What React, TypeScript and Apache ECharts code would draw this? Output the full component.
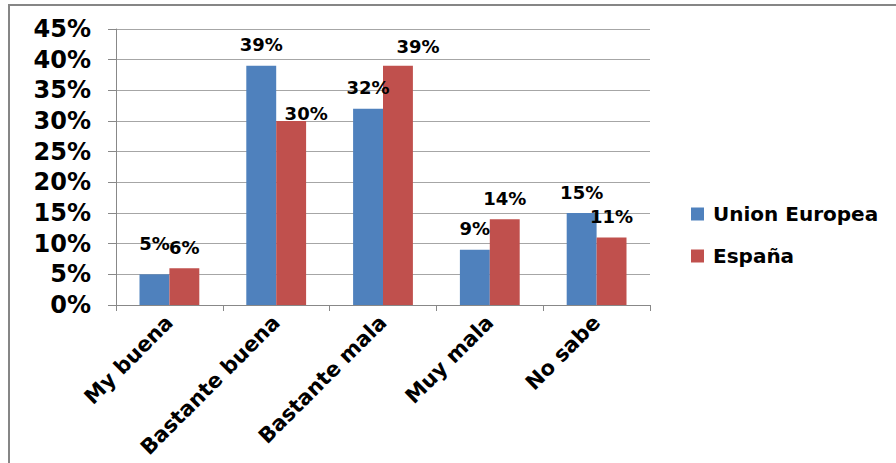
import React, { useEffect, useRef } from "react";
import * as echarts from "echarts";

const categories = ["My buena", "Bastante buena", "Bastante mala", "Muy mala", "No sabe"];
const unionEuropea = [5, 39, 32, 9, 15];
const espana = [6, 30, 39, 14, 11];
const seriesNames = ["Union Europea", "España"];

// label nudges (Excel placed a few labels slightly off the bar top)
const ueLabelOffsets: [number, number][] = [[0, -10], [0, 0], [0, 0], [0, 0], [0, 0]];
const esLabelOffsets: [number, number][] = [[0, 0], [15, 13], [20, 2], [0, 0], [0, 0]];

const FONT = "'DejaVu Sans', Verdana, sans-serif";

export default function App() {
  const ref = useRef<HTMLDivElement>(null);
  useEffect(() => {
    document.body.style.margin = "0";
    const chart = echarts.init(ref.current!, null, { renderer: "svg" });
    const mkData = (vals: number[], offs: [number, number][]) =>
      vals.map((v, i) => ({ value: v, label: { offset: offs[i] } }));
    const labelStyle = {
      show: true,
      position: "top" as const,
      distance: 12,
      formatter: "{c}%",
      color: "#000",
      fontFamily: FONT,
      fontSize: 18,
      fontWeight: 600,
    };
    chart.setOption({
      animation: false,
      backgroundColor: "#fff",
      graphic: [
        {
          type: "rect",
          shape: { x: 9, y: 5, width: 1000, height: 600 },
          style: { fill: "none", stroke: "#868686", lineWidth: 2 },
          silent: true,
        },
      ],
      grid: { left: 116, right: 246, top: 29, bottom: 158 },
      legend: {
        orient: "vertical",
        left: 691,
        top: 204,
        padding: 0,
        itemWidth: 13,
        itemHeight: 13,
        itemGap: 22,
        icon: "rect",
        textStyle: {
          fontFamily: FONT,
          fontSize: 20,
          fontWeight: "bold",
          color: "#000",
          padding: [0, 0, 0, 4],
        },
        data: seriesNames,
      },
      xAxis: {
        type: "category",
        data: categories,
        axisLine: { lineStyle: { color: "#888", width: 1 } },
        axisTick: { show: true, length: 6, lineStyle: { color: "#888" } },
        axisLabel: {
          rotate: 45,
          interval: 0,
          margin: 14,
          color: "#000",
          fontFamily: FONT,
          fontSize: 21,
          fontWeight: "bold",
        },
      },
      yAxis: {
        type: "value",
        min: 0,
        max: 45,
        interval: 5,
        axisLine: { show: true, lineStyle: { color: "#888", width: 1 } },
        axisTick: { show: true, length: 8, lineStyle: { color: "#888" } },
        splitLine: { lineStyle: { color: "#a6a6a6", width: 1 } },
        axisLabel: {
          formatter: "{value}%",
          margin: 25,
          color: "#000",
          fontFamily: FONT,
          fontSize: 24,
          fontWeight: "bold",
        },
      },
      series: [
        {
          name: seriesNames[0],
          type: "bar",
          data: mkData(unionEuropea, ueLabelOffsets),
          itemStyle: { color: "#4F81BD" },
          barGap: "0%",
          barCategoryGap: "44%",
          label: labelStyle,
        },
        {
          name: seriesNames[1],
          type: "bar",
          data: mkData(espana, esLabelOffsets),
          itemStyle: { color: "#C0504D" },
          label: labelStyle,
        },
      ],
    });
    return () => chart.dispose();
  }, []);
  return <div ref={ref} style={{ width: 896, height: 463 }} />;
}
